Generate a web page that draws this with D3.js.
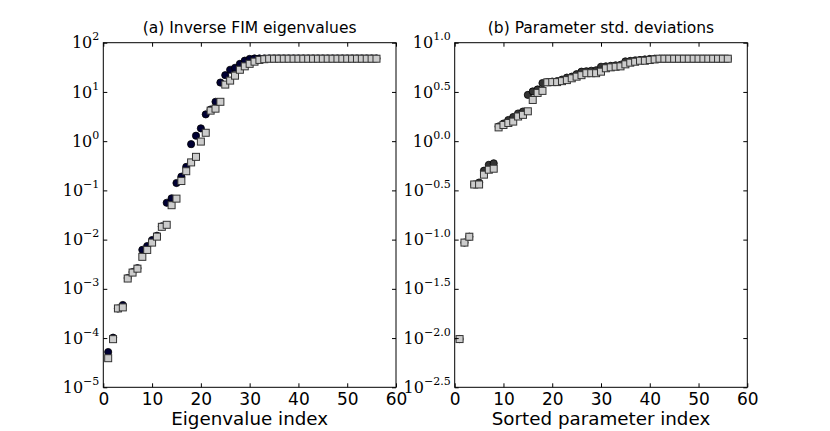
<!DOCTYPE html>
<html>
<head>
<meta charset="utf-8">
<script src="https://cdn.jsdelivr.net/npm/d3@7"></script>
<style>
  body { margin: 0; background: #fff; }
  svg { display: block; }
  .tick line { stroke: #000; }
  .xlab text { font-family: "DejaVu Sans", sans-serif; font-size: 17px; fill: #000; }
  .ylab text { font-family: "DejaVu Serif", serif; font-size: 16px; fill: #000; }
</style>
</head>
<body>
<div id="chart"></div>
<script>
// x ticks shared by both panels
var xTicks = [0, 10, 20, 30, 40, 50, 60];

// (a) inverse FIM eigenvalues, index 1..56
var eigIndex = d3.range(1, 57);
var eigCircle = [5.2e-5, 1.02e-4, 3.98e-4, 4.7e-4, 1.66e-3, 2.19e-3, 2.63e-3, 6.2e-3, 7.4e-3, 9.8e-3,
                 1.2e-2, 1.86e-2, 5.6e-2, 6.9e-2, 0.141, 0.19, 0.30, 0.87, 1.29, 1.82,
                 3.5, 4.4, 6.3, 15.5, 21.9, 28.2, 30.9, 37.2, 43.2, 46.8,
                 47.9, 47.9, 47.9, 47.9, 47.9, 47.9, 47.9, 47.9, 47.9, 47.9,
                 47.9, 47.9, 47.9, 47.9, 47.9, 47.9, 47.9, 47.9, 47.9, 47.9,
                 47.9, 47.9, 47.9, 47.9, 47.9, 47.9];
var eigSquare = [3.9e-5, 9.5e-5, 4.0e-4, 4.2e-4, 1.62e-3, 2.14e-3, 2.57e-3, 4.47e-3, 6.17e-3, 8.7e-3,
                 1.15e-2, 1.82e-2, 2.0e-2, 5.0e-2, 6.8e-2, 0.155, 0.245, 0.37, 0.48, 0.98,
                 1.48, 4.17, 4.57, 6.3, 14.1, 17.0, 21.4, 28.2, 33.1, 37.2,
                 41.2, 44.7, 46.2, 47.3, 47.3, 47.3, 47.3, 47.3, 47.3, 47.3,
                 47.3, 47.3, 47.3, 47.3, 47.3, 47.3, 47.3, 47.3, 47.3, 47.3,
                 47.3, 47.3, 47.3, 47.3, 47.3, 47.3];
var eigTickExp = [2, 1, 0, -1, -2, -3, -4, -5];

// (b) parameter std. deviations, sorted index 1..56
var sdIndex = d3.range(1, 57);
var sdCircle = [0.00977, 0.0933, 0.107, 0.363, 0.380, 0.501, 0.575, 0.596, 1.41, 1.51,
                1.64, 1.76, 1.91, 2.00, 2.95, 3.20, 3.35, 3.89, 3.98, 4.03,
                4.07, 4.22, 4.42, 4.52, 4.79, 5.08, 5.13, 5.19, 5.25, 5.70,
                5.75, 5.82, 5.89, 5.96, 6.46, 6.53, 6.61, 6.68, 6.76, 6.84,
                6.88, 6.88, 6.88, 6.88, 6.88, 6.88, 6.88, 6.88, 6.88, 6.88,
                6.88, 6.88, 6.88, 6.88, 6.88, 6.88];
var sdSquare = [0.00977, 0.0933, 0.107, 0.363, 0.363, 0.457, 0.513, 0.525, 1.38, 1.46,
                1.53, 1.58, 1.78, 1.85, 2.01, 2.62, 3.09, 3.24, 3.96, 3.98,
                3.98, 4.07, 4.17, 4.35, 4.52, 4.68, 4.90, 4.90, 4.90, 5.08,
                5.50, 5.62, 5.70, 5.75, 6.03, 6.27, 6.41, 6.56, 6.56, 6.67,
                6.76, 6.88, 6.88, 6.88, 6.88, 6.88, 6.88, 6.88, 6.88, 6.88,
                6.88, 6.88, 6.88, 6.88, 6.88, 6.88];
var sdTickExp = [1.0, 0.5, 0.0, -0.5, -1.0, -1.5, -2.0, -2.5];

var svgWidth = 830, svgHeight = 431;
var plotTop = 42.7, plotBottom = 387.3;

var svg = d3.select("#chart").append("svg")
            .attr("width", svgWidth)
            .attr("height", svgHeight);

var panels = [
    { left: 103.3, right: 396, title: "(a) Inverse FIM eigenvalues", xlabel: "Eigenvalue index",
      index: eigIndex, circles: eigCircle, squares: eigSquare, tickExp: eigTickExp,
      expFmt: d3.format("d"), expLo: -5, expHi: 2, circleFill: "#000033" },
    { left: 454.7, right: 747.3, title: "(b) Parameter std. deviations", xlabel: "Sorted parameter index",
      index: sdIndex, circles: sdCircle, squares: sdSquare, tickExp: sdTickExp,
      expFmt: d3.format(".1f"), expLo: -2.5, expHi: 1.0, circleFill: "#333333" }
];

panels.forEach(function(p) {
    var x = d3.scaleLinear().domain([0, 60]).range([p.left, p.right]);
    var y = d3.scaleLog().domain([Math.pow(10, p.expLo), Math.pow(10, p.expHi)]).range([plotBottom, plotTop]);
    var yTicks = p.tickExp.map(function(e) { return Math.pow(10, e); });

    var g = svg.append("g");

    // markers: circles under squares
    g.selectAll(".dot").data(p.index).enter().append("circle")
     .attr("class", "dot")
     .attr("cx", function(d) { return x(d); })
     .attr("cy", function(d, i) { return y(p.circles[i]); })
     .attr("r", 3.6)
     .attr("fill", p.circleFill)
     .attr("stroke", "#000")
     .attr("stroke-width", 0.8);

    g.selectAll(".sq").data(p.index).enter().append("rect")
     .attr("class", "sq")
     .attr("x", function(d) { return x(d) - 3.5; })
     .attr("y", function(d, i) { return y(p.squares[i]) - 3.5; })
     .attr("width", 7)
     .attr("height", 7)
     .attr("fill", "#cccccc")
     .attr("stroke", "#333")
     .attr("stroke-width", 1);

    // axes, ticks pointing inward on all four sides
    g.append("g").attr("class", "xlab")
     .attr("transform", "translate(0," + plotBottom + ")")
     .call(d3.axisBottom(x).tickValues(xTicks).tickSizeInner(-4).tickSizeOuter(0).tickPadding(5.5));
    g.append("g")
     .attr("transform", "translate(0," + plotTop + ")")
     .call(d3.axisTop(x).tickValues(xTicks).tickSizeInner(-4).tickSizeOuter(0).tickFormat(""));

    var yl = g.append("g").attr("class", "ylab")
              .attr("transform", "translate(" + p.left + ",0)")
              .call(d3.axisLeft(y).tickValues(yTicks).tickSizeInner(-4).tickSizeOuter(0).tickPadding(4));
    yl.selectAll(".tick text").each(function(d, i) {
        var t = d3.select(this).text(null);
        t.append("tspan").text("10");
        t.append("tspan").attr("dy", -8).attr("font-size", 11).text(p.expFmt(p.tickExp[i]));
    });
    g.append("g")
     .attr("transform", "translate(" + p.right + ",0)")
     .call(d3.axisRight(y).tickValues(yTicks).tickSizeInner(-4).tickSizeOuter(0).tickFormat(""));

    g.selectAll(".domain").remove();

    // frame
    g.append("rect")
     .attr("x", p.left).attr("y", plotTop)
     .attr("width", p.right - p.left).attr("height", plotBottom - plotTop)
     .attr("fill", "none").attr("stroke", "#000").attr("stroke-width", 1);

    // title and x label
    g.append("text")
     .attr("x", (p.left + p.right) / 2).attr("y", 33)
     .attr("text-anchor", "middle")
     .style("font-family", "DejaVu Sans, sans-serif").style("font-size", "15.5px")
     .text(p.title);
    g.append("text")
     .attr("x", (p.left + p.right) / 2).attr("y", 425)
     .attr("text-anchor", "middle")
     .style("font-family", "DejaVu Sans, sans-serif").style("font-size", "18.3px")
     .text(p.xlabel);
});
</script>
</body>
</html>
